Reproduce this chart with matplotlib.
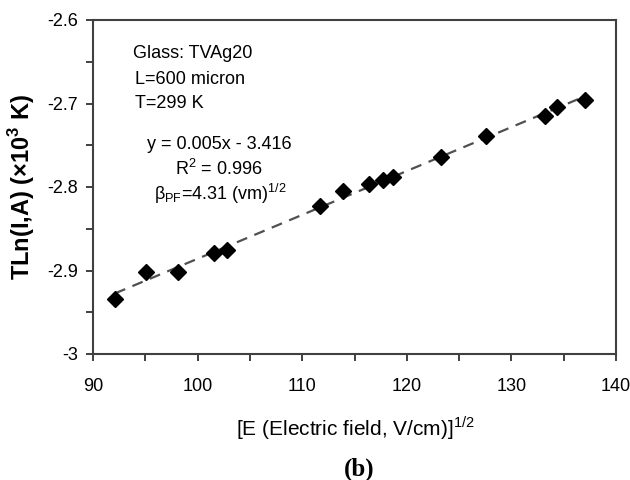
import numpy as np
import matplotlib.pyplot as plt

# data
field_sqrt = [92.1, 95.1, 98.1, 101.6, 102.8, 111.7, 113.9, 116.4, 117.7, 118.7,
              123.3, 127.6, 133.2, 134.4, 137.0]
tln_current = [-2.934, -2.902, -2.902, -2.879, -2.875, -2.823, -2.805, -2.796, -2.792, -2.788,
               -2.764, -2.739, -2.715, -2.704, -2.696]
xticks = [90, 100, 110, 120, 130, 140]
yticks = [-3.0, -2.9, -2.8, -2.7, -2.6]
ytick_labels = ["-3", "-2.9", "-2.8", "-2.7", "-2.6"]

plt.rcParams['font.family'] = ['Liberation Sans', 'DejaVu Sans']
plt.rcParams['mathtext.fontset'] = 'custom'
plt.rcParams['mathtext.rm'] = 'Liberation Sans'
plt.rcParams['mathtext.bf'] = 'Liberation Sans:bold'

W, H = 630, 480
fig = plt.figure(figsize=(W / 100, H / 100), dpi=100)
ax = fig.add_axes([93 / W, 1 - 354 / H, (616 - 93) / W, (354 - 20) / H])

def px(x, y):
    # pixel position (from top-left) -> figure fraction
    return x / W, 1 - y / H

# linear fit for the trendline
slope, icpt = np.polyfit(field_sqrt, tln_current, 1)
xs = np.array([min(field_sqrt), max(field_sqrt)])
ax.plot(xs, slope * xs + icpt, color='#505050', lw=1.6, dashes=(5, 3.5), zorder=2)
ax.plot(field_sqrt, tln_current, 'D', color='black', markersize=8, zorder=3)

ax.set_xlim(90, 140)
ax.set_ylim(-3.0, -2.6)
ax.set_xticks(xticks)
ax.set_xticks(np.arange(95, 140, 10), minor=True)
ax.set_yticks(yticks)
ax.set_yticklabels(ytick_labels)
ax.set_yticks([-2.95, -2.85, -2.75, -2.65], minor=True)
ax.tick_params(which='both', direction='out', length=5, width=1.4, color='#404040',
               labelsize=13, top=False, right=False)
ax.tick_params(axis='x', pad=12)
ax.tick_params(axis='y', pad=6)
for sp in ax.spines.values():
    sp.set_color('#404040')
    sp.set_linewidth(1.5)

# annotation block
fig.text(*px(133, 53), "Glass: TVAg20", fontsize=13, va='center', ha='left')
fig.text(*px(135, 79), "L=600 micron", fontsize=13, va='center', ha='left')
fig.text(*px(135, 103), "T=299 K", fontsize=13, va='center', ha='left')
fig.text(*px(219, 145), "y = 0.005x - 3.416", fontsize=13, va='center', ha='center')
fig.text(*px(219, 169), "R$^2$ = 0.996", fontsize=13, va='center', ha='center')
fig.text(*px(220, 194), r"β$_{\rm PF}$=4.31 (vm)$^{1/2}$", fontsize=13, va='center', ha='center')

fig.text(*px(22, 187), r"TLn(I,A) (×10$^{\bf 3}$ K)", fontsize=17, fontweight='bold',
         rotation=90, va='center', ha='center')
fig.text(*px(355, 428), r"[E (Electric field, V/cm)]$^{1/2}$", fontsize=15,
         va='center', ha='center')
fig.text(*px(359, 469), "(b)", fontsize=18, fontweight='bold', family='Liberation Serif',
         va='center', ha='center')

plt.savefig("out.png", dpi=100)
